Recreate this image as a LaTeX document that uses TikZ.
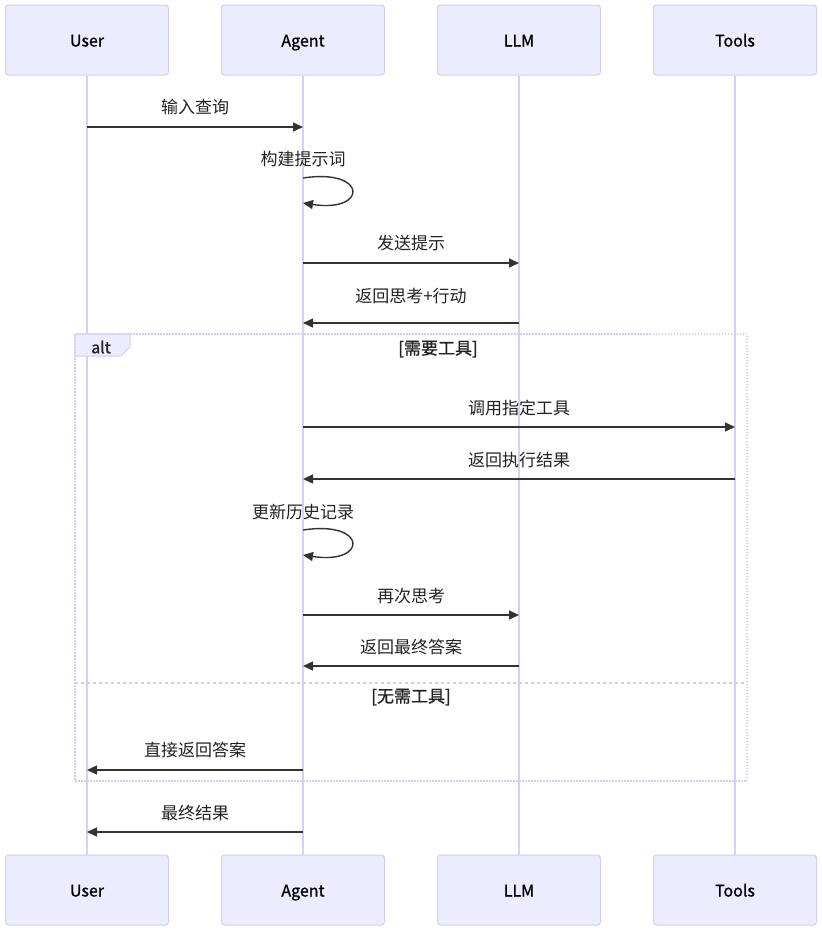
\documentclass[tikz,border=0pt]{standalone}
\usepackage{fontspec}
\setmainfont{Noto Sans CJK SC}
\newfontfamily\semibold[FakeBold=1.0]{Noto Sans CJK SC}
\usetikzlibrary{arrows.meta}
\definecolor{actfill}{HTML}{ECECFF}
\definecolor{actline}{HTML}{D3CCF5}
\definecolor{lifeln}{HTML}{D6CFF7}
\definecolor{msgc}{HTML}{333333}
\definecolor{txt}{HTML}{222222}
\tikzset{
  actor/.style={draw=actline, fill=actfill, line width=1pt, rounded corners=3pt,
    minimum width=163pt, minimum height=70pt, inner sep=0pt,
    text height=15pt, text depth=2pt,
    font=\semibold\fontsize{16}{19}\selectfont, text=black},
  life/.style={draw=lifeln, line width=1.6pt},
  msg/.style={draw=msgc, line width=1.4pt, -{Triangle[length=10pt,width=9pt]}},
  msgtxt/.style={font=\fontsize{17}{20}\selectfont, text=txt, inner sep=0pt},
  condtxt/.style={font=\semibold\fontsize{17}{20}\selectfont, text=txt, inner sep=0pt},
  framebox/.style={draw=actline, line width=1.3pt, dash pattern=on 1.5pt off 1.5pt},
  sepline/.style={draw=actline, line width=1.3pt, dash pattern=on 3pt off 3pt},
}
\begin{document}
\begin{tikzpicture}[x=1pt,y=-1pt]
\useasboundingbox (0,0) rectangle (822,930);
% actors
\node[actor] (u1) at (87,40) {User};
\node[actor] (a1) at (303,40) {Agent};
\node[actor] (l1) at (519,40) {LLM};
\node[actor] (t1) at (735,40) {Tools};
\node[actor] (u2) at (87,890) {User};
\node[actor] (a2) at (303,890) {Agent};
\node[actor] (l2) at (519,890) {LLM};
\node[actor] (t2) at (735,890) {Tools};
% lifelines
\draw[life] (u1.south) -- (u2.north);
\draw[life] (a1.south) -- (a2.north);
\draw[life] (l1.south) -- (l2.north);
\draw[life] (t1.south) -- (t2.north);
% lifeline coordinates
\foreach \n/\x in {U/87,A/303,L/519,T/735}{
  \foreach \y in {127,178,203,263,323,427,479,530,555,615,666,770,832}{
    \coordinate (\n\y) at (\x,\y);
  }
}
% messages
\node[msgtxt] (m1) at (195,107) {输入查询};
\draw[msg] (U127) -- (A127);
\node[msgtxt] (m2) at (303,159) {构建提示词};
\draw[msg] (A178) .. controls (368,168) and (368,213) .. (A203);
\node[msgtxt] (m3) at (411,243) {发送提示};
\draw[msg] (A263) -- (L263);
\node[msgtxt] (m4) at (411,296) {返回思考+行动};
\draw[msg] (L323) -- (A323);
% alt frame
\coordinate (f1) at (75,334);
\coordinate (f2) at (747,781);
\draw[framebox] (f1) rectangle (f2);
\draw[draw=actline, fill=actfill, line width=1pt] (75,334) -- (130,334) -- (130,347) -- (121,356) -- (75,356) -- cycle;
\node[condtxt, font=\semibold\fontsize{16}{19}\selectfont] (alt) at (101,347) {alt};
\node[condtxt] (c1) at (438,349) {[需要工具]};
\node[msgtxt] (m5) at (519,408) {调用指定工具};
\draw[msg] (A427) -- (T427);
\node[msgtxt] (m6) at (519,460) {返回执行结果};
\draw[msg] (T479) -- (A479);
\node[msgtxt] (m7) at (303,512) {更新历史记录};
\draw[msg] (A530) .. controls (368,520) and (368,565) .. (A555);
\node[msgtxt] (m8) at (411,596) {再次思考};
\draw[msg] (A615) -- (L615);
\node[msgtxt] (m9) at (411,647) {返回最终答案};
\draw[msg] (L666) -- (A666);
\coordinate (s1) at (75,683);
\coordinate (s2) at (747,683);
\draw[sepline] (s1) -- (s2);
\node[condtxt] (c2) at (411,697) {[无需工具]};
\node[msgtxt] (m10) at (195,750) {直接返回答案};
\draw[msg] (A770) -- (U770);
\node[msgtxt] (m11) at (195,813) {最终结果};
\draw[msg] (A832) -- (U832);
\end{tikzpicture}
\end{document}
